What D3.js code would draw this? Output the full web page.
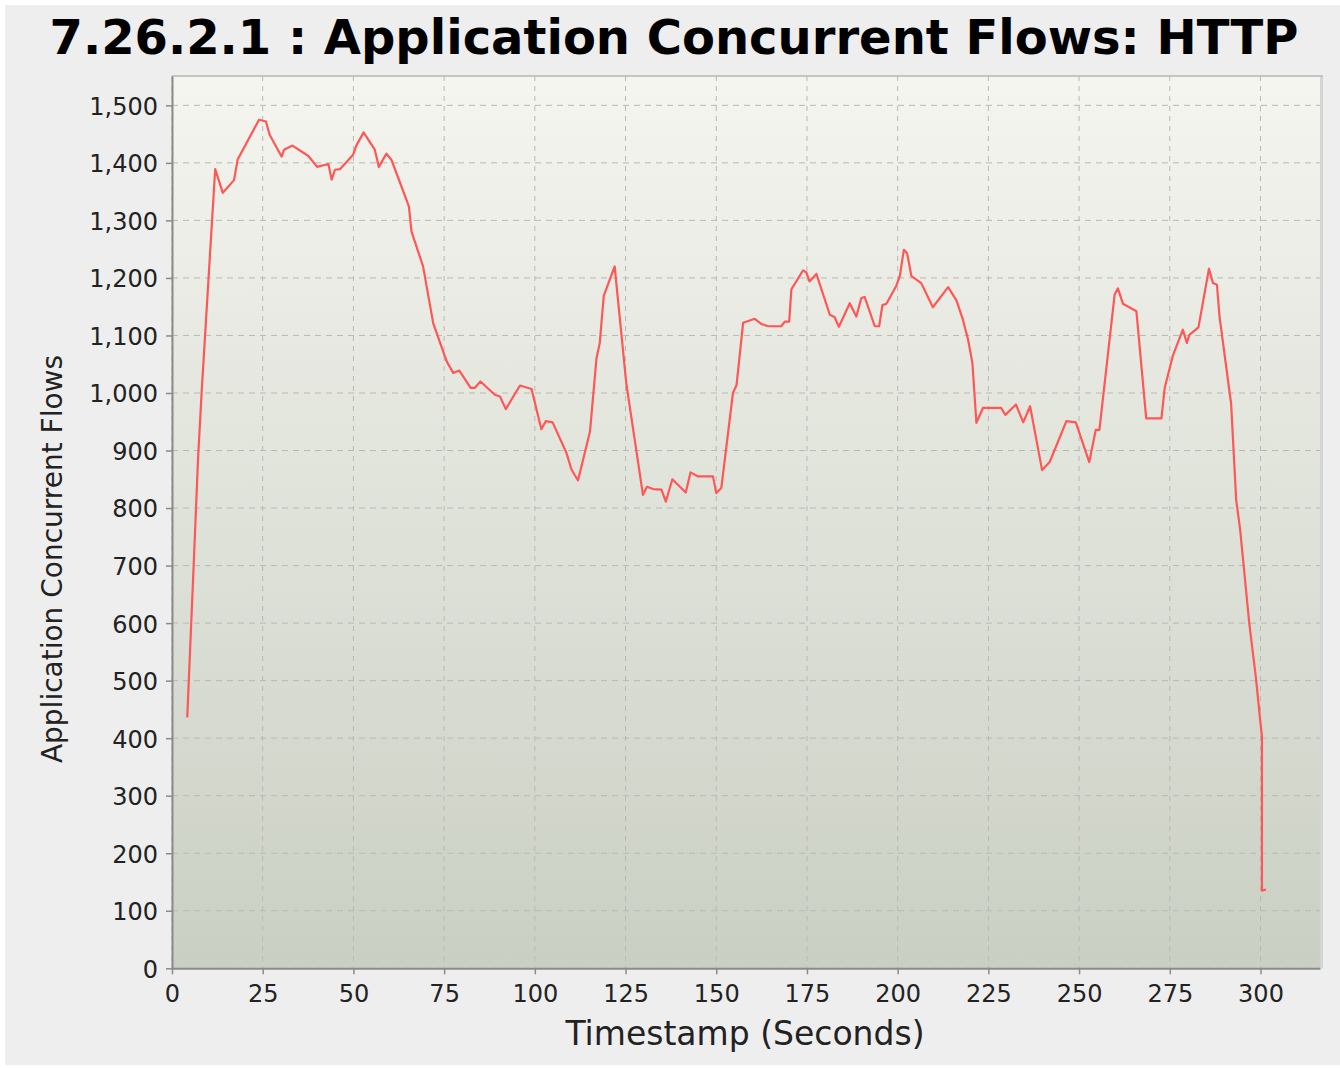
<!DOCTYPE html>
<html>
<head>
<meta charset="utf-8">
<script src="https://cdn.jsdelivr.net/npm/d3@7"></script>
<style>
  html, body { margin: 0; padding: 0; background: #ffffff; }
  svg { display: block; }
  text { font-family: "DejaVu Sans", sans-serif; }
</style>
</head>
<body>
<svg id="chart" width="1340" height="1068"></svg>
<script>
// Concurrent HTTP flows sampled over the test run
const timestamps = [
  4.2, 6.0, 7.2, 8.2, 11.9, 14.0, 17.1, 18.1, 24.0, 25.9, 26.9, 30.2, 30.9, 33.2,
  37.6, 40.0, 43.1, 44.0, 44.9, 46.3, 49.9, 50.8, 52.8, 55.9, 57.0, 59.1, 60.5,
  64.6, 65.3, 66.0, 69.2, 72.0, 75.7, 77.5, 79.2, 82.3, 83.5, 85.0, 89.0, 90.4,
  92.0, 95.9, 99.1, 101.8, 103.0, 104.9, 108.7, 110.1, 111.9, 115.2, 117.0, 117.9,
  119.0, 122.0, 125.2, 129.8, 130.9, 132.6, 134.9, 136.1, 137.9, 141.6, 142.9,
  145.0, 149.1, 150.0, 151.4, 154.6, 155.6, 157.4, 160.6, 162.4, 164.3, 167.9,
  168.9, 170.1, 170.7, 173.9, 174.8, 175.7, 177.6, 181.3, 182.6, 183.8, 186.8,
  188.6, 190.0, 190.9, 193.7, 194.9, 195.8, 196.9, 199.6, 200.6, 201.7, 202.6,
  203.8, 206.5, 209.7, 213.9, 216.2, 218.0, 219.4, 220.6, 221.7, 223.5, 228.5,
  229.7, 232.6, 234.6, 236.5, 239.8, 241.9, 246.5, 249.1, 252.8, 254.6, 255.6,
  259.8, 260.7, 262.1, 265.8, 268.5, 272.7, 273.6, 275.9, 278.6, 279.7, 280.4,
  282.9, 285.8, 286.9, 288.0, 288.7, 291.5, 291.9, 293.3, 294.4, 296.9, 298.7,
  300.1, 300.4, 300.4, 301.5
];
const flows = [
  436, 705, 889, 1005, 1389, 1348, 1370, 1406, 1475, 1472, 1449, 1411, 1423, 1430,
  1412, 1393, 1398, 1371, 1388, 1389, 1414, 1430, 1453, 1423, 1393, 1416, 1405,
  1336, 1324, 1281, 1220, 1121, 1055, 1035, 1039, 1009, 1009, 1020, 997, 994,
  972, 1013, 1007, 937, 951, 949, 896, 867, 848, 933, 1061, 1087,
  1169, 1220, 1017, 823, 837, 833, 832, 811, 850, 827, 862,
  855, 855, 826, 835, 1000, 1014, 1122, 1129, 1120, 1116, 1116,
  1124, 1124, 1180, 1213, 1210, 1194, 1207, 1136, 1132, 1115, 1156,
  1133, 1165, 1167, 1116, 1116, 1153, 1155, 1186, 1203, 1249, 1243,
  1203, 1191, 1149, 1184, 1161, 1127, 1093, 1052, 948, 974, 974,
  962, 980, 949, 977, 866, 880, 951, 949, 880, 936, 936,
  1171, 1182, 1155, 1142, 956, 956, 1009, 1066, 1110, 1087, 1101,
  1114, 1216, 1191, 1188, 1133, 1000, 982, 814, 762, 600, 507,
  420, 403, 135, 137
];
const xTicks = [0, 25, 50, 75, 100, 125, 150, 175, 200, 225, 250, 275, 300];
const yTicks = [0, 100, 200, 300, 400, 500, 600, 700, 800, 900, 1000, 1100, 1200, 1300, 1400, 1500];
const xDomain = [0, 316.4];
const yDomain = [0, 1551];

const titleText = "7.26.2.1 : Application Concurrent Flows: HTTP";
const xLabel = "Timestamp (Seconds)";
const yLabel = "Application Concurrent Flows";

const plot = { left: 172, top: 76, right: 1320, bottom: 968.3 };

const svg = d3.select("#chart");

// page background
svg.append("rect")
  .attr("x", 5).attr("y", 5).attr("width", 1335).attr("height", 1060)
  .attr("fill", "#eeeeee");

const defs = svg.append("defs");
const grad = defs.append("linearGradient")
  .attr("id", "plotBg").attr("x1", 0).attr("y1", 0).attr("x2", 0).attr("y2", 1);
grad.append("stop").attr("offset", "0%").attr("stop-color", "#f4f5ef");
grad.append("stop").attr("offset", "100%").attr("stop-color", "#cacfc3");

const x = d3.scaleLinear().domain(xDomain).range([plot.left, plot.right]);
const y = d3.scaleLinear().domain(yDomain).range([plot.bottom, plot.top]);

// right-edge shadow of the plot panel
svg.append("rect")
  .attr("x", plot.right - 1).attr("y", plot.top)
  .attr("width", 4).attr("height", plot.bottom - plot.top)
  .attr("fill", "#d5d5d5");

svg.append("rect")
  .attr("x", plot.left).attr("y", plot.top)
  .attr("width", plot.right - plot.left).attr("height", plot.bottom - plot.top)
  .attr("fill", "url(#plotBg)");

// top edge of the panel
svg.append("line")
  .attr("x1", plot.left).attr("x2", plot.right + 3)
  .attr("y1", plot.top).attr("y2", plot.top)
  .attr("stroke", "#c4c4c4").attr("stroke-width", 2);

// grid
const grid = svg.append("g");
grid.selectAll("line.h").data(yTicks).join("line")
  .attr("x1", plot.left).attr("x2", plot.right)
  .attr("y1", d => y(d)).attr("y2", d => y(d))
  .attr("stroke", "#b9b9b4").attr("stroke-width", 1)
  .attr("stroke-dasharray", "6,5");
grid.selectAll("line.v").data(xTicks).join("line")
  .attr("y1", plot.top).attr("y2", plot.bottom)
  .attr("x1", d => x(d)).attr("x2", d => x(d))
  .attr("stroke", "#b9b9b4").attr("stroke-width", 1)
  .attr("stroke-dasharray", "5,5");

// axes
const yAxis = svg.append("g")
  .attr("transform", `translate(${plot.left},0)`)
  .call(d3.axisLeft(y).tickValues(yTicks).tickFormat(d3.format(",")).tickSize(6).tickPadding(8).tickSizeOuter(0));
const xAxis = svg.append("g")
  .attr("transform", `translate(0,${plot.bottom})`)
  .call(d3.axisBottom(x).tickValues(xTicks).tickFormat(d3.format("d")).tickSize(6).tickPadding(11).tickSizeOuter(0));

[yAxis, xAxis].forEach(a => {
  a.select(".domain").attr("stroke", "#8a8a8a").attr("stroke-width", 2);
  a.selectAll(".tick line").attr("stroke", "#8a8a8a").attr("stroke-width", 1.5);
  a.selectAll(".tick text")
    .attr("fill", "#222222")
    .style("font-family", "'DejaVu Sans', sans-serif")
    .style("font-size", "24px");
});
yAxis.selectAll(".tick text").attr("dy", "0.37em");

// series line
const line = d3.line()
  .x((d, i) => x(timestamps[i]))
  .y(d => y(d));

svg.append("path")
  .datum(flows)
  .attr("d", line)
  .attr("fill", "none")
  .attr("stroke", "#ff5656")
  .attr("stroke-width", 2.2)
  .attr("stroke-linejoin", "round");

// title
svg.append("text")
  .attr("x", 674).attr("y", 53.5)
  .attr("text-anchor", "middle")
  .style("font-size", "48px").style("font-weight", "bold")
  .attr("fill", "#000000")
  .text(titleText);

// axis labels
svg.append("text")
  .attr("x", 745).attr("y", 1045)
  .attr("text-anchor", "middle")
  .style("font-size", "33px")
  .attr("fill", "#222222")
  .text(xLabel);

svg.append("text")
  .attr("transform", "translate(62,559) rotate(-90)")
  .attr("text-anchor", "middle")
  .style("font-size", "28px")
  .attr("fill", "#222222")
  .text(yLabel);
</script>
</body>
</html>
